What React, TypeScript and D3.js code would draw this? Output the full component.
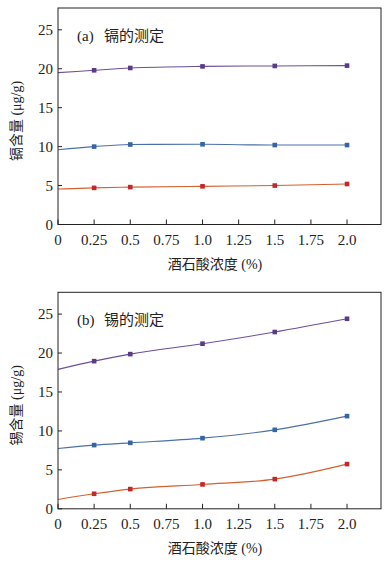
import React from "react";
import * as d3 from "d3";

const xValues = [0, 0.25, 0.5, 1.0, 1.5, 2.0];
const xTickValues = [0, 0.25, 0.5, 0.75, 1.0, 1.25, 1.5, 1.75, 2.0];
const xTickLabels = ["0", "0.25", "0.5", "0.75", "1.0", "1.25", "1.5", "1.75", "2.0"];
const yTickValues = [0, 5, 10, 15, 20, 25];

const cdPurple = [19.5, 19.8, 20.1, 20.3, 20.36, 20.4];
const cdBlue = [9.6, 10.0, 10.27, 10.3, 10.2, 10.2];
const cdRed = [4.55, 4.7, 4.8, 4.9, 5.0, 5.2];

const snPurple = [17.9, 18.96, 19.86, 21.2, 22.7, 24.4];
const snBlue = [7.75, 8.18, 8.47, 9.07, 10.14, 11.9];
const snRed = [1.2, 1.93, 2.53, 3.13, 3.81, 5.74];

const seriesColors = [
  { line: "#6a4f9a", mark: "#5b3a86" },
  { line: "#4a70aa", mark: "#3465a4" },
  { line: "#d4602e", mark: "#c0282a" },
];

const panelTitles = ["(a)", "(b)"];
const panelNames = ["镉的测定", "锡的测定"];
const yLabels = ["镉含量 (μg/g)", "锡含量 (μg/g)"];
const xLabel = "酒石酸浓度 (%)";

const FONT = "'Times New Roman', 'Liberation Serif', 'Noto Sans CJK SC', serif";

const L = 58, R = 381, TOP = 8, BOT = 224.5;

function Panel({ dy, series, title, name, yLabel }: { dy: number; series: number[][]; title: string; name: string; yLabel: string }) {
  const x = d3.scaleLinear().domain([0, 2.235]).range([L, R]);
  const y = d3.scaleLinear().domain([0, 27.8]).range([BOT, TOP]);
  const line = d3
    .line<number>()
    .x((_, i) => x(xValues[i]))
    .y((d) => y(d))
    .curve(d3.curveMonotoneX);
  const ts = { fontFamily: FONT };
  return (
    <g transform={`translate(0,${dy})`}>
      {series.map((s, si) => (
        <g key={si}>
          <path d={line(s) || ""} fill="none" stroke={seriesColors[si].line} strokeWidth={1.1} />
          {s.map((v, i) =>
            i === 0 ? null : (
              <rect
                key={i}
                x={x(xValues[i]) - 2.3}
                y={y(v) - 2.3}
                width={4.6}
                height={4.6}
                fill={seriesColors[si].mark}
              />
            )
          )}
        </g>
      ))}
      <rect x={L} y={TOP} width={R - L} height={BOT - TOP} fill="none" stroke="#222" strokeWidth={1} />
      {yTickValues.map((t) => (
        <g key={t}>
          <line x1={L} x2={L + 4} y1={y(t)} y2={y(t)} stroke="#222" />
          <text x={L - 5} y={y(t) + 5} textAnchor="end" fontSize={15} fill="#222" style={ts}>
            {t}
          </text>
        </g>
      ))}
      {xTickValues.map((t, i) => (
        <g key={t}>
          <line x1={x(t)} x2={x(t)} y1={BOT} y2={BOT - 5} stroke="#222" />
          <text x={x(t)} y={BOT + 20.5} textAnchor="middle" fontSize={15} fill="#222" style={ts}>
            {xTickLabels[i]}
          </text>
        </g>
      ))}
      <text x={77} y={40.5} fontSize={15} fill="#222" style={ts}>
        {title}
      </text>
      <text x={104} y={40.5} fontSize={15} fill="#222" style={ts}>
        {name}
      </text>
      <text x={215} y={268.5} textAnchor="middle" fontSize={14} fill="#222" style={ts}>
        {xLabel}
      </text>
      <text
        transform={`translate(21,121) rotate(-90)`}
        textAnchor="middle"
        fontSize={14}
        fill="#222"
        style={ts}
      >
        {yLabel}
      </text>
    </g>
  );
}

export default function App() {
  return (
    <svg
      width={392}
      height={566}
      style={{ position: "absolute", left: 0, top: 0, background: "#fff" }}
    >
      <rect width={392} height={566} fill="#fff" />
      <Panel dy={0} series={[cdPurple, cdBlue, cdRed]} title={panelTitles[0]} name={panelNames[0]} yLabel={yLabels[0]} />
      <Panel dy={284.3} series={[snPurple, snBlue, snRed]} title={panelTitles[1]} name={panelNames[1]} yLabel={yLabels[1]} />
    </svg>
  );
}
